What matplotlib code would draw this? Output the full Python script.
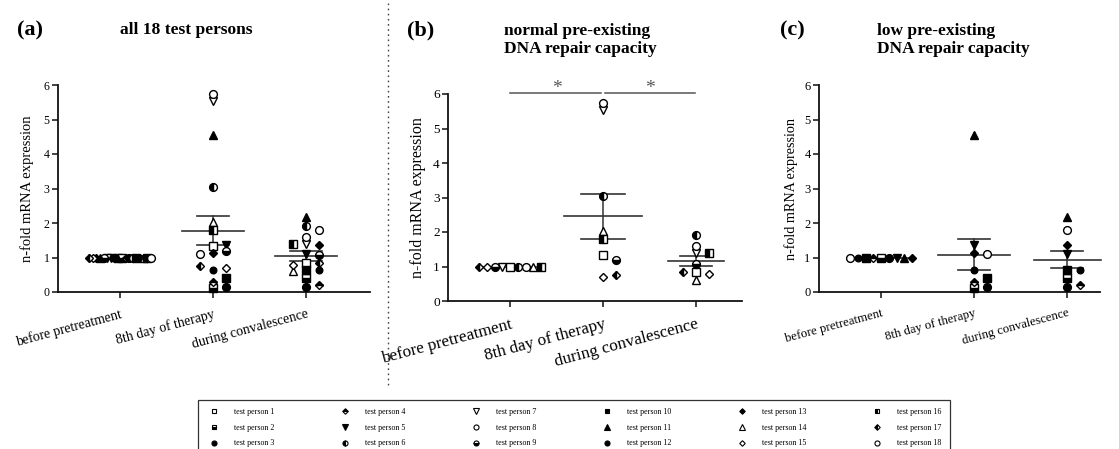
import numpy as np
import matplotlib
matplotlib.use('Agg')
import matplotlib.pyplot as plt
from matplotlib.lines import Line2D

plt.rcParams['font.family'] = ['Liberation Serif', 'DejaVu Serif']

# ---------------- data ----------------
timepoints = ['before pretreatment', '8th day of therapy', 'during convalescence']
persons = [f'test person {i}' for i in range(1, 19)]
baseline = [1.0] * 18
day8 = [1.32, 0.13, 0.15, 0.29, 1.37, 3.03, 5.55, 5.73, 1.20,
        0.41, 4.55, 0.65, 1.12, 2.04, 0.70, 1.79, 0.76, 1.09]
conval = [0.83, 0.40, 0.15, 0.21, 1.10, 1.90, 1.38, 1.58, 1.07,
          0.63, 2.17, 0.63, 1.35, 0.60, 0.78, 1.40, 0.83, 1.81]
normal_group = [1, 6, 7, 8, 9, 14, 15, 16, 17]
low_group = [2, 3, 4, 5, 10, 11, 12, 13, 18]
all_group = list(range(1, 19))
panel_letters = ['(a)', '(b)', '(c)']
panel_titles = ['all 18 test persons', 'normal pre-existing\nDNA repair capacity',
                'low pre-existing\nDNA repair capacity']
yticks = [0, 1, 2, 3, 4, 5, 6]

# marker styles per person
markers = ['s', 's', 'o', 'D', 'v', 'o', 'v', 'o', 'o',
           's', '^', 'o', 'D', '^', 'D', 's', 'D', 'o']
fillstyles = ['full', 'bottom', 'full', 'top', 'full', 'left', 'full', 'full', 'bottom',
              'full', 'full', 'full', 'full', 'full', 'full', 'left', 'left', 'full']
faces = ['white', 'black', 'black', 'black', 'black', 'black', 'white', 'white', 'black',
         'black', 'black', 'black', 'black', 'white', 'white', 'black', 'black', 'white']
msizes = {'s': 5.3, 'o': 5.6, 'D': 4.3, 'v': 5.8, '^': 5.8}

W, H = 1119, 449
fig = plt.figure(figsize=(W / 100, H / 100), dpi=100)

PX_X = 93.0   # pixels per category
PX_Y = 34.5   # pixels per y unit


def fx(px):
    return px / W


def fy(py):
    return 1 - py / H


def swarm(yvals, dx=13.0, dy=5.5, max_span=62.0):
    placed = []
    offs = []
    for yv in yvals:
        y = yv * PX_Y
        near = [x0 for x0, y0 in placed if abs(y - y0) < dy]
        cands = [0.0] + [x0 + s * dx for x0 in near for s in (1, -1)]
        cands = sorted(set(round(c, 6) for c in cands), key=lambda c: (abs(c), -c))
        chosen = cands[0]
        for c in cands:
            if all(abs(c - x0) >= dx - 1e-6 for x0 in near):
                chosen = c
                break
        placed.append((chosen, y))
        offs.append(chosen)
    offs = np.array(offs)
    span = offs.max() - offs.min()
    if span > max_span:
        mid = (offs.max() + offs.min()) / 2
        offs = (offs - mid) * max_span / span
    return offs / PX_X


# axes geometry in pixels: (left, right, y_of_0, y_of_6)
geoms = [(58, 370, 292, 85), (448, 742, 301, 94), (819, 1100, 292, 85)]
groups = [all_group, normal_group, low_group]
tick_fs = [8.5, 9.6, 9.0]
ylab_fs = [10.5, 11.5, 10.2]
xlab_fs = [10.0, 12.3, 9.2]
ylab_right = [34, 426, 798]
mean_half = [[0.33, 0.33, 0.33], [0.33, 0.42, 0.30], [0.33, 0.39, 0.36]]
cap_half = [[0.17, 0.17, 0.17], [0.17, 0.24, 0.17], [0.17, 0.17, 0.17]]
letter_x = [17, 407, 780]
title_x = [120, 504, 877]

series = [baseline, day8, conval]

for p, (geom, grp) in enumerate(zip(geoms, groups)):
    l, r, y0, y6 = geom
    ax = fig.add_axes([fx(l), fy(y0), (r - l) / W, (y0 - y6) / H])
    x_left = -0.667
    ax.set_xlim(x_left, x_left + (r - l) / PX_X)
    ax.set_ylim(0, 6)
    for s in ['top', 'right']:
        ax.spines[s].set_visible(False)
    for s in ['left', 'bottom']:
        ax.spines[s].set_linewidth(1.3)
        ax.spines[s].set_color('#111111')
    ax.set_yticks(yticks)
    ax.set_yticklabels([str(t) for t in yticks], fontsize=tick_fs[p])
    ax.set_xticks(range(3))
    ax.set_xticklabels(timepoints, rotation=15, ha='right', rotation_mode='anchor',
                       fontsize=xlab_fs[p])
    ax.tick_params(axis='both', direction='out', length=4, width=1.1, color='#111111')
    ax.tick_params(axis='x', pad=7)
    ax.tick_params(axis='y', pad=2)
    ax.set_ylabel('n-fold mRNA expression', fontsize=ylab_fs[p])
    ax.yaxis.set_label_coords((ylab_right[p] - l) / (r - l), 0.5)
    ax.patch.set_alpha(0)

    idx = [k - 1 for k in grp]
    for t, ser in enumerate(series):
        vals = np.array([ser[k] for k in idx])
        offs = swarm(vals)
        m = vals.mean()
        sem = vals.std(ddof=1) / np.sqrt(len(vals)) if vals.std() > 0 else 0.0
        mh, ch = mean_half[p][t], cap_half[p][t]
        ax.plot([t - mh, t + mh], [m, m], color='#333333', lw=1.2, zorder=2, clip_on=False)
        if sem > 0:
            ax.plot([t, t], [m - sem, m + sem], color='#333333', lw=1.1, zorder=2)
            ax.plot([t - ch, t + ch], [m + sem, m + sem], color='#333333', lw=1.2, zorder=2)
            ax.plot([t - ch, t + ch], [m - sem, m - sem], color='#333333', lw=1.2, zorder=2)
        for k, o, v in zip(idx, offs, vals):
            ax.plot(t + o, v, ls='none', marker=markers[k], fillstyle=fillstyles[k],
                    mfc=faces[k], mfcalt='white', mec='black', mew=1.0,
                    ms=msizes[markers[k]] * (0.85 if k == 11 else 1.0),
                    zorder=3, clip_on=False)

    if p == 1:
        ax.plot([0, 0.98], [6.02, 6.02], color='#555555', lw=1.1, clip_on=False)
        ax.plot([1.02, 1.99], [6.02, 6.02], color='#555555', lw=1.1, clip_on=False)
        ax.text(0.5, 6.17, '*', ha='center', va='center', fontsize=14, color='#555555',
                clip_on=False)
        ax.text(1.5, 6.17, '*', ha='center', va='center', fontsize=14, color='#555555',
                clip_on=False)

    fig.text(fx(letter_x[p]), fy(30), panel_letters[p], fontsize=16, fontweight='bold',
             ha='left', va='center')
    nlines = panel_titles[p].count('\n') + 1
    fig.text(fx(title_x[p]), fy(30 if nlines == 1 else 40), panel_titles[p],
             fontsize=12.5, fontweight='bold', ha='left', va='center', linespacing=1.1)

# separator
fig.add_artist(Line2D([fx(388), fx(388)], [fy(3), fy(385)], transform=fig.transFigure,
                      ls=(0, (1.2, 2.5)), color='#444444', lw=1.0))

# legend
handles = [Line2D([], [], ls='none', marker=markers[k], fillstyle=fillstyles[k],
                  mfc=faces[k], mfcalt='white', mec='black', mew=0.8,
                  ms=msizes[markers[k]] * 0.65) for k in range(18)]
leg = fig.legend(handles, persons, ncol=6, loc='upper left',
                 bbox_to_anchor=(fx(198), fy(400)), bbox_transform=fig.transFigure,
                 fontsize=5.8, frameon=True, fancybox=False, borderaxespad=0,
                 handlelength=2.0, handletextpad=1.5, columnspacing=7.75,
                 labelspacing=0.95, borderpad=1.0)
leg.get_frame().set_edgecolor('black')
leg.get_frame().set_linewidth(0.9)

fig.savefig('out.png', dpi=100)
